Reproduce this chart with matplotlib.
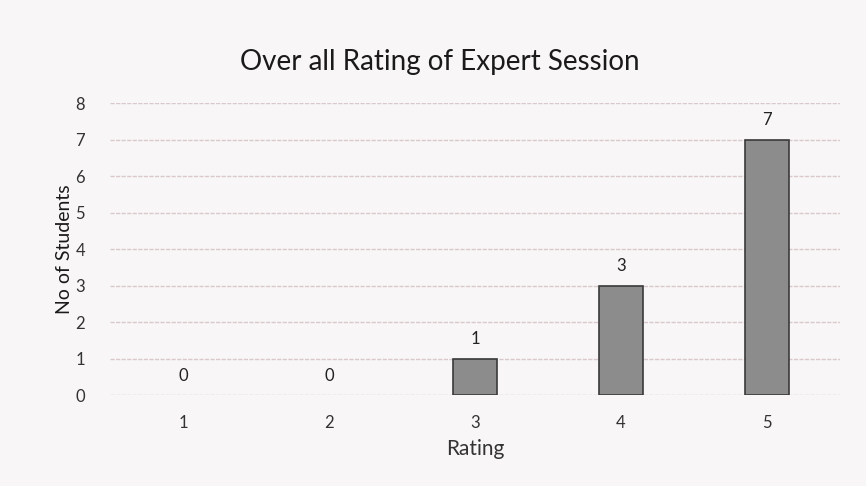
import numpy as np
import matplotlib
matplotlib.use('Agg')
from matplotlib import pyplot as plt

ratings = [1, 2, 3, 4, 5]
students = [0, 0, 1, 3, 7]
yticks = [0, 1, 2, 3, 4, 5, 6, 7, 8]

plt.rcParams['font.family'] = ['Lato', 'DejaVu Sans']

fig = plt.figure(figsize=(8.66, 4.86), dpi=100)
fig.patch.set_facecolor('#f8f6f6')
ax = fig.add_axes([0.127, 0.187, 0.843, 0.601])
ax.set_facecolor('#f8f6f6')

ax.set_axisbelow(True)
ax.yaxis.grid(True, color='#d9c9cc', linewidth=1.0, linestyle=(0, (3, 1)))
# no outline on empty bars
lws = [1.2 if s > 0 else 0 for s in students]
bars = ax.bar(ratings, students, width=0.3, color='#8c8c8c', edgecolor='#3a3a3a', linewidth=lws)
for r, s in zip(ratings, students):
    ax.annotate(str(s), (r, s), xytext=(0, 8), textcoords='offset points',
                ha='center', va='bottom', fontsize=12, color='#222222')

ax.set_xlim(0.5, 5.5)
ax.set_ylim(0, 8)
ax.set_yticks(yticks)
ax.set_xticks(ratings)
for sp in ax.spines.values():
    sp.set_visible(False)
ax.tick_params(length=0, labelsize=12, labelcolor='#333333')
ax.tick_params(axis='y', pad=18)
ax.tick_params(axis='x', pad=14)

fig.text(0.508, 0.872, 'Over all Rating of Expert Session', fontsize=20,
         color='#1a1a1a', ha='center', va='center')
ax.set_xlabel('Rating', fontsize=15, color='#333333', labelpad=6)
ax.set_ylabel('No of Students', fontsize=14, color='#1a1a1a', labelpad=2)

plt.savefig('out.png', dpi=100, facecolor=fig.get_facecolor())
